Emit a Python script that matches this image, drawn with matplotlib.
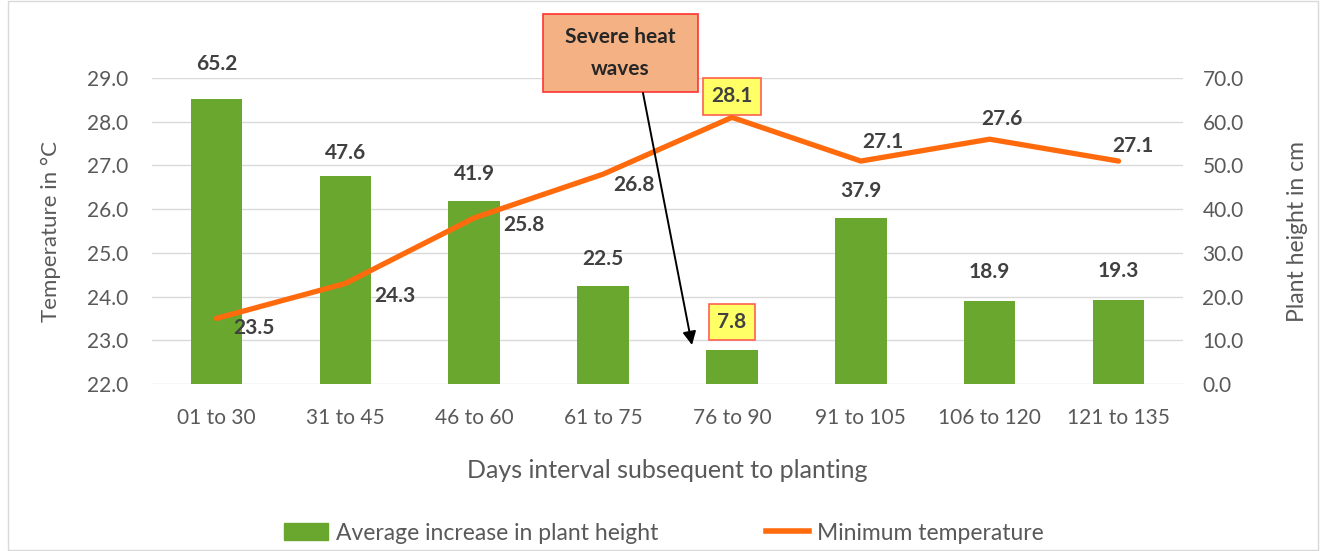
import matplotlib.pyplot as plt
from matplotlib.patches import Rectangle
import numpy as np

plt.rcParams['font.family'] = ['Lato', 'DejaVu Sans']

days = ["01 to 30", "31 to 45", "46 to 60", "61 to 75", "76 to 90",
        "91 to 105", "106 to 120", "121 to 135"]
height = [65.2, 47.6, 41.9, 22.5, 7.8, 37.9, 18.9, 19.3]
temp = [23.5, 24.3, 25.8, 26.8, 28.1, 27.1, 27.6, 27.1]

green = "#6AA72E"
orange = "#FF6A0D"
grey = "#595959"
dark = "#404040"
W, H = 1325, 551

fig = plt.figure(figsize=(W / 100, H / 100), dpi=100)
ax = fig.add_axes([152 / W, 1 - 384 / H, 1031 / W, 306 / H])
ax2 = ax.twinx()

x = np.arange(len(days))

# bars on the right axis (plant height)
ax2.bar(x, height, width=0.4, color=green, zorder=2)
ax2.set_ylim(0, 70)
ax2.set_yticks(np.arange(0, 71, 10))
ax2.set_yticklabels([f"{v:.1f}" for v in np.arange(0, 71, 10)])

# label offsets in pixels above the bar top
bar_off = [35, 23, 27, 27, 28, 27, 29, 29]
for i, h in enumerate(height):
    kw = dict(xytext=(0, bar_off[i]), textcoords="offset pixels", ha="center", va="center",
              fontsize=15, fontweight="bold", color=dark)
    if i == 4:
        kw["bbox"] = dict(boxstyle="square,pad=0.4", fc="#FFFF66", ec="#FF6050", lw=1.2)
    ax2.annotate(f"{h}", (i, h), **kw)

# line on the left axis (temperature), drawn on top
ax.set_zorder(ax2.get_zorder() + 1)
ax.patch.set_visible(False)
ax.plot(x, temp, color=orange, lw=3.8, solid_capstyle="round", zorder=3)
ax.set_ylim(22, 29)
ax.set_yticks(np.arange(22, 29.1, 1))
ax.set_yticklabels([f"{v:.1f}" for v in np.arange(22, 29.1, 1)])

temp_off = [(38, -10), (50, -13), (50, -7), (31, -11), (0, 21), (22, 19), (12, 20), (14, 15)]
for i, (t, off) in enumerate(zip(temp, temp_off)):
    kw = dict(xytext=off, textcoords="offset pixels", ha="center", va="center",
              fontsize=15, fontweight="bold", color=dark)
    if i == 4:
        kw["bbox"] = dict(boxstyle="square,pad=0.4", fc="#FFFF66", ec="#FF6050", lw=1.2)
    ax.annotate(f"{t}", (i, t), **kw)

ax.set_xlim(-0.5, len(days) - 0.5)
ax.set_xticks(x)
ax.set_xticklabels(days)

# grid lines on the bar axis so they sit behind bars
for v in np.arange(0, 71, 10):
    ax2.axhline(v, color="#D9D9D9", lw=1, zorder=0)

for a in (ax, ax2):
    for s in a.spines.values():
        s.set_visible(False)
    a.tick_params(length=0, labelsize=15, colors=grey)
ax.tick_params(axis="x", pad=17)
ax.tick_params(axis="y", pad=17)
ax2.tick_params(axis="y", pad=14)

ax.set_ylabel("Temperature in °C", fontsize=16, color=grey, va="center")
ax.yaxis.set_label_coords(-0.098, 0.5)
ax2.set_ylabel("Plant height in cm", fontsize=16.5, color=grey, va="center")
ax2.yaxis.set_label_coords(1.111, 0.5)
ax.set_xlabel("Days interval subsequent to planting", fontsize=18, color=grey, va="center")
ax.xaxis.set_label_coords(0.5, (384 - 470) / 306)

# callout box and arrow
fig.add_artist(Rectangle((543 / W, 1 - 92 / H), 155 / W, 78 / H, transform=fig.transFigure,
                         fc="#F4B183", ec="#FF3333", lw=1.2))
fig.text(620 / W, 1 - 53 / H, "Severe heat\nwaves", ha="center", va="center",
         fontsize=15, fontweight="bold", color="#262626", linespacing=1.75)
fig.add_artist(plt.Annotation("", xy=(692 / W, 1 - 345 / H), xytext=(643 / W, 1 - 93 / H),
                              xycoords="figure fraction", textcoords="figure fraction",
                              arrowprops=dict(arrowstyle="-|>", color="black", lw=1.4,
                                              mutation_scale=20, shrinkA=0, shrinkB=0)))

# legend
h1 = plt.Rectangle((0, 0), 1, 1, color=green)
h2 = plt.Line2D([], [], color=orange, lw=4)
fig.legend([h1, h2], ["Average increase in plant height", "Minimum temperature"],
           loc="center", bbox_to_anchor=(664 / W, 1 - 533 / H), ncol=2, frameon=False,
           fontsize=16.5, labelcolor=grey, columnspacing=4.7, handlelength=1.9,
           handletextpad=0.35)

fig.add_artist(Rectangle((8 / W, 0.002), 1310 / W, 0.996, transform=fig.transFigure,
                         fill=False, ec="#D9D9D9", lw=1))

fig.savefig("out.png", dpi=100)
